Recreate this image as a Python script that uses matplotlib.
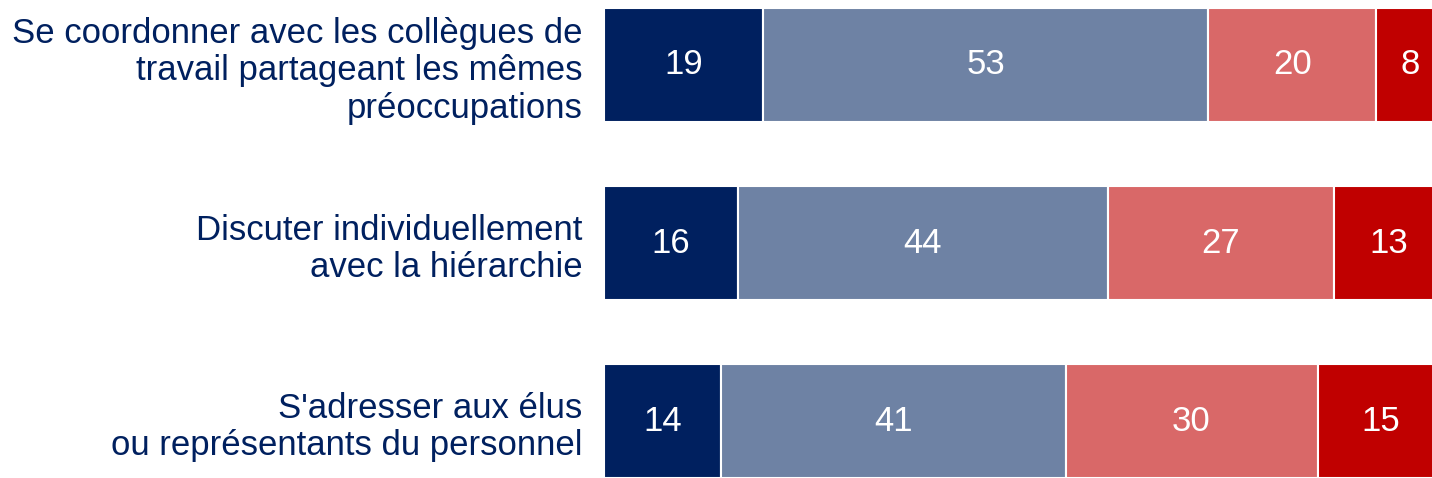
import matplotlib.pyplot as plt

plt.rcParams['font.family'] = ['Liberation Sans', 'DejaVu Sans']

categories = [
    "Se coordonner avec les collègues de\ntravail partageant les mêmes\npréoccupations",
    "Discuter individuellement\navec la hiérarchie",
    "S'adresser aux élus\nou représentants du personnel",
]
series = [
    [19, 16, 14],
    [53, 44, 41],
    [20, 27, 30],
    [8, 13, 15],
]
colors = ['#00205f', '#6e82a4', '#d96868', '#c00000']

fig = plt.figure(figsize=(14.32, 4.78), dpi=100)
# bar area runs a little past the right edge, as in the original
ax = fig.add_axes([603.5 / 1432, 0, 840 / 1432, 1])

ypos = list(range(len(categories)))
left = [0] * len(categories)
for vals, col in zip(series, colors):
    bars = ax.barh(ypos, vals, left=left, height=0.64, color=col,
                   edgecolor='white', linewidth=1.5)
    for b, v in zip(bars, vals):
        ax.text(b.get_x() + b.get_width() / 2, b.get_y() + b.get_height() / 2,
                str(v), ha='center', va='center', color='white', fontsize=25)
    left = [l + v for l, v in zip(left, vals)]

ax.set_xlim(0, 100)
ax.set_ylim(2.32, -0.365)
ax.set_yticks(ypos)
ax.set_yticklabels(categories, fontsize=25, color='#00205f', ha='right',
                   linespacing=1.17)
ax.tick_params(axis='y', length=0, pad=15)
ax.tick_params(axis='x', length=0, labelbottom=False)
for s in ax.spines.values():
    s.set_visible(False)

fig.savefig('out.png', dpi=100)
